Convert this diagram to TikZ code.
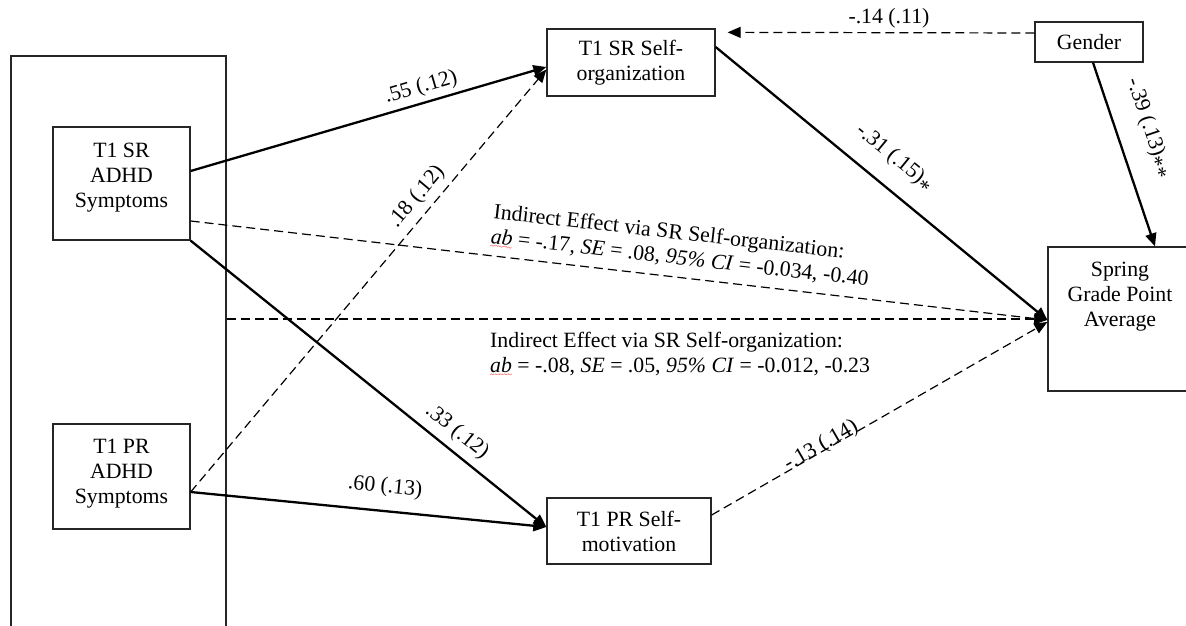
\documentclass[tikz,border=0pt]{standalone}
\usepackage{fontspec}
\setmainfont{Liberation Serif}
\usetikzlibrary{arrows.meta,calc}
\newcommand\redwave[1]{\setbox0=\hbox{#1}\rlap{\textcolor{red}{\raisebox{-5pt}{\hbox to \wd0{\xleaders\hbox{\fontsize{8}{8}\selectfont\char"7E}\hfil}}}}\box0\relax}
\newcommand\lowast{\raisebox{-0.3em}{*}}
\begin{document}
\begin{tikzpicture}[x=1pt,y=-1pt,
  every node/.style={font=\fontsize{21.8}{25}\selectfont},
  box/.style={draw=black!85, line width=1.3pt, inner sep=0pt, align=center},
  txt/.style={align=center, inner sep=0pt},
  solidarrow/.style={line width=2.3pt, -{Triangle[length=13pt,width=11pt]}},
  dasharrow/.style={line width=1.2pt, dash pattern=on 9pt off 5pt, -{Triangle[length=13pt,width=11pt]}},
  lbl/.style={sloped, anchor=south}]
\useasboundingbox (0,0) rectangle (1186,626);
% boxes
\node[box, minimum width=215pt, minimum height=604pt] (big) at (118.5,358) {};
\node[box, minimum width=137pt, minimum height=113pt] (adhdsr) at (121.5,183.5) {};
\node[txt] (adhdsrtext) at (121.5,177.5) {T1 SR\\ADHD\\Symptoms};
\node[box, minimum width=137pt, minimum height=105pt] (adhdpr) at (121.5,476.5) {};
\node[txt] (adhdprtext) at (121.5,474) {T1 PR\\ADHD\\Symptoms};
\node[box, minimum width=168pt, minimum height=67pt] (selforg) at (631,62.5) {T1 SR Self-\\organization};
\node[box, minimum width=164pt, minimum height=66pt] (selfmot) at (629,531) {T1 PR Self-\\motivation};
\node[box, minimum width=108pt, minimum height=40pt] (gender) at (1089,42) {Gender};
\node[box, minimum width=144pt, minimum height=144pt] (gpa) at (1120,319) {};
\node[txt, anchor=north] (gpatext) at (1120,262) {Spring\\Grade Point\\Average};
\coordinate (gtip) at ($(selforg.north east)+(12,4)$);
% connectors
\draw[solidarrow] ($(adhdsr.east)+(0,-12.5)$) -- node[lbl, pos=0.66, inner sep=4.5pt] {.55 (.12)} ($(selforg.west)+(0,4.5)$);
\draw[solidarrow] (adhdsr.south east) -- node[lbl, pos=0.717, inner sep=7pt] {.33 (.12)} ($(selfmot.west)+(0,-4)$);
\draw[dasharrow] ($(adhdsr.east)+(0,37.5)$) -- ($(gpa.west)+(0,1)$);
\draw[dasharrow] (big.east |- gpa.west) -- (gpa.west);
\draw[dasharrow] ($(adhdpr.east)+(0,15.5)$) -- node[lbl, pos=0.673, inner sep=6pt] {.18 (.12)} ($(selforg.west)+(0,7)$);
\draw[solidarrow] ($(adhdpr.east)+(0,15.5)$) -- node[lbl, pos=0.54, inner sep=13pt] {.60 (.13)} ($(selfmot.west)+(0,-4)$);
\draw[solidarrow] ($(selforg.east)+(0,-15.5)$) -- node[lbl, pos=0.485, inner sep=15pt] {-.31 (.15)\lowast} ($(gpa.west)+(0,1)$);
\draw[dasharrow] ($(gender.west)+(0,-9)$) -- node[anchor=south, pos=0.474, inner sep=3.5pt] {-.14 (.11)} (gtip);
\draw[solidarrow] ($(gender.south)+(4,0)$) -- node[lbl, pos=0.41, inner sep=19pt] {-.39 (.13)\lowast\lowast} ($(gpa.north)+(35,0)$);
\draw[dasharrow] ($(selfmot.east)+(0,-16)$) -- node[sloped, anchor=base, pos=0.334, inner sep=1pt] {-.13 (.14)} ($(gpa.west)+(0,3)$);
% indirect effect texts
\node[rotate=-6.5, align=left, inner sep=0pt] (ind1) at (681,247) {Indirect Effect via SR Self-organization:\\\redwave{\textit{ab}} = -.17, \textit{SE} = .08, \textit{95\% CI} = -0.034, -0.40};
\node[anchor=north west, align=left, inner sep=0pt] (ind2) at (490,332) {Indirect Effect via SR Self-organization:\\\redwave{\textit{ab}} = -.08, \textit{SE} = .05, \textit{95\% CI} = -0.012, -0.23};
\end{tikzpicture}
\end{document}
